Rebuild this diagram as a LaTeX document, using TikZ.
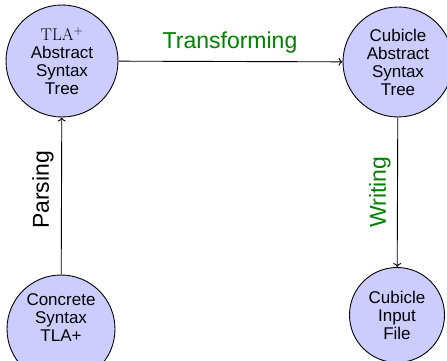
\documentclass[tikz,border=0pt]{standalone}
\usepackage{fontspec}
\setsansfont{Liberation Sans}
\usetikzlibrary{arrows.meta}
\definecolor{stagefill}{RGB}{204,204,255}
\definecolor{stepgreen}{RGB}{0,128,0}
\tikzset{
  stage/.style={circle, draw=black, fill=stagefill, line width=0.9pt,
    inner sep=0pt, align=center, font=\sffamily\fontsize{17}{18}\selectfont},
  stagetext/.style={inner sep=0pt, align=center, font=\sffamily\fontsize{17}{18}\selectfont},
  flow/.style={draw=black, line width=0.9pt, -{To[length=4pt,width=8pt]}},
  steplabel/.style={inner sep=0pt, font=\sffamily\fontsize{23}{27}\selectfont}
}
\begin{document}
\begin{tikzpicture}[x=1pt, y=-1pt]
  \path[use as bounding box, clip] (0,0) rectangle (447,361);
  \node[stage, minimum size=112pt] (tlaast) at (62,61)
    {{\rmfamily TLA$^{+}$}\\Abstract\\Syntax\\Tree};
  \node[stage, minimum size=110pt] (cubast) at (398,62)
    {Cubicle\\Abstract\\Syntax\\Tree};
  \node[stage, minimum size=108pt] (concrete) at (61,329) {};
  \node[stagetext] (concretetext) at (61,318) {Concrete\\Syntax\\TLA+};
  \node[stage, minimum size=95pt] (input) at (397,315)
    {Cubicle\\Input\\File};
  \draw[flow] (concrete) -- (tlaast);
  \draw[flow] (tlaast) -- (cubast);
  \draw[flow] (cubast) -- (input);
  \node[steplabel, text=stepgreen] (transform) at (230,43) {Transforming};
  \node[steplabel, rotate=90] (parse) at (43,190) {Parsing};
  \node[steplabel, rotate=90, text=stepgreen] (write) at (380,192) {Writing};
\end{tikzpicture}
\end{document}
